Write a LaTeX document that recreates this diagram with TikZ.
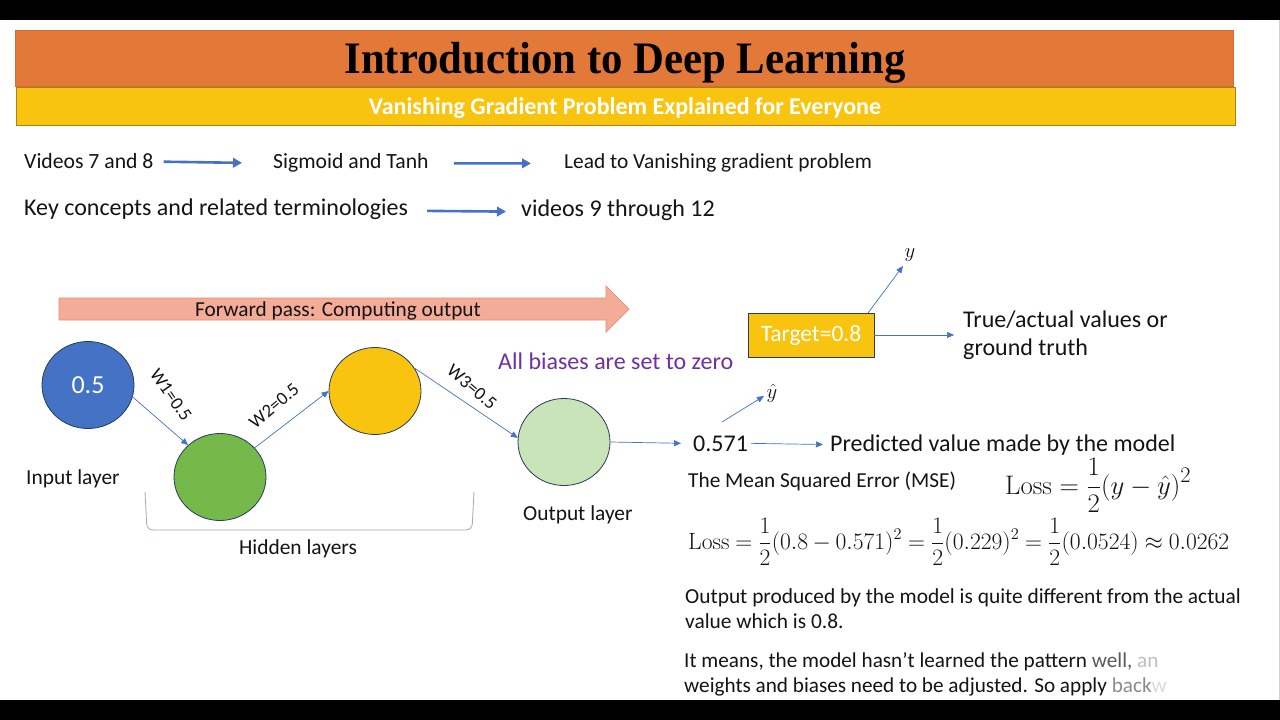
\documentclass[tikz,border=0pt]{standalone}
\usepackage[no-math]{fontspec}
\setmainfont{Carlito}
\newfontfamily\titlefont{Liberation Serif}
\usetikzlibrary{arrows.meta,shapes.geometric}
\definecolor{orangec}{RGB}{226,121,57}
\definecolor{orangeb}{RGB}{205,112,60}
\definecolor{goldc}{RGB}{248,196,16}
\definecolor{goldb}{RGB}{170,130,20}
\definecolor{bluec}{RGB}{68,114,196}
\definecolor{greenc}{RGB}{116,185,74}
\definecolor{lgreenc}{RGB}{200,228,184}
\definecolor{navyb}{RGB}{40,60,90}
\definecolor{purplec}{RGB}{112,48,160}
\definecolor{salmonc}{RGB}{244,172,152}
\definecolor{salmonb}{RGB}{228,140,115}
\definecolor{txt}{RGB}{20,20,20}
\definecolor{brk}{RGB}{160,170,185}
\tikzset{
  txtn/.style={inner sep=0pt, text=txt, font=\fontsize{21.7}{26}\selectfont},
  neuron/.style={ellipse, draw=navyb, line width=0.8pt, minimum width=92, minimum height=87, inner sep=0pt},
  bigarrow/.style={draw=bluec, line width=2.6pt, -{Triangle[length=9pt,width=9.5pt]}},
  thinarrow/.style={draw=bluec, line width=0.7pt, -{Triangle[length=7pt,width=6pt]}},
  wlab/.style={inner sep=0pt, text=txt, font=\fontsize{18.5}{22}\selectfont},
  mathn/.style={inner sep=0pt, text=txt, font=\fontsize{20.74}{25}\selectfont},
}
\begin{document}
\begin{tikzpicture}[x=1pt,y=-1pt]
\useasboundingbox (0,0) rectangle (1280,720);
\fill[white] (0,0) rectangle (1280,720);
\fill[black] (0,0) rectangle (1280,20);
\fill[black] (0,700) rectangle (1280,720);
\draw[gray!35, line width=1pt] (1279,20) -- (1279,700);

% header
\draw[draw=orangeb, fill=orangec, line width=0.8pt] (15,30) rectangle (1233,86);
\draw[draw=goldb, fill=goldc, line width=0.8pt] (16,87) rectangle (1235,125);
\node[anchor=base, inner sep=0pt, text=black, font=\titlefont\bfseries\fontsize{45}{45}\selectfont] (title) at (625,73) {\scalebox{0.95}[1]{Introduction to Deep Learning}};
\node[anchor=base, inner sep=0pt, text=white, font=\bfseries\fontsize{24}{28}\selectfont] (subtitle) at (625,114) {Vanishing Gradient Problem Explained for Everyone};

% line 1 and 2
\node[txtn, anchor=base west] (v78) at (24,168) {Videos 7 and 8};
\node[txtn, anchor=base west] (sig) at (273,168) {Sigmoid and Tanh};
\node[txtn, anchor=base west, font=\fontsize{21.4}{26}\selectfont] (lead) at (564,168) {Lead to Vanishing gradient problem};
\node[txtn, anchor=base west, font=\fontsize{24}{28}\selectfont] (key) at (24,215) {Key concepts and related terminologies};
\node[txtn, anchor=base west, font=\fontsize{24}{28}\selectfont] (v912) at (521,216) {videos 9 through 12};
\draw[bigarrow, shorten <=10pt, shorten >=31pt] ([yshift=-1pt]v78.east) -- ([yshift=-1pt]sig.west);
\draw[bigarrow, shorten <=25pt, shorten >=33pt] ([yshift=-1pt]sig.east) -- ([yshift=-1pt]lead.west);
\draw[bigarrow, shorten <=19pt, shorten >=15pt] ([yshift=-2pt]key.east) -- ([yshift=-2pt]v912.west);

% forward pass arrow
\draw[draw=salmonb, fill=salmonc, line width=0.7pt]
  (59,298) -- (606,298) -- (606,286) -- (629,309) -- (606,332) -- (606,320) -- (59,320) -- cycle;
\node[txtn, anchor=base, font=\fontsize{21.3}{25}\selectfont] (fwd) at (338,316) {Forward pass: Computing output};

% neurons
\node[neuron, fill=bluec, text=white, font=\fontsize{26}{30}\selectfont] (in) at (88,385) {0.5};
\node[neuron, fill=greenc] (h1) at (220,477) {};
\node[neuron, fill=goldc] (h2) at (375,391) {};
\node[neuron, fill=lgreenc] (out) at (564,442) {};

\draw[thinarrow] (in.-15) -- (h1.135);
\draw[thinarrow] (h1.40) -- (h2.180);
\draw[thinarrow] (h2.30) -- (out.175);

\node[wlab, rotate=-55] (w1) at (171,395) {W1=0.5};
\node[wlab, rotate=40] (w2) at (274,406) {W2=0.5};
\node[wlab, rotate=-40] (w3) at (472,387) {W3=0.5};

\node[txtn, anchor=base west, font=\fontsize{21.4}{25}\selectfont] (inl) at (26,484) {Input layer};
\node[txtn, anchor=base west, font=\fontsize{21.4}{25}\selectfont] (outl) at (523,520) {Output layer};
\node[txtn, anchor=base, font=\fontsize{21.4}{25}\selectfont] (hidl) at (298,554) {Hidden layers};
\draw[brk, line width=0.8pt, rounded corners=6pt] (145,492) -- (147,530) -- (472,530) -- (474,492);

\node[txtn, anchor=base west, text=purplec, font=\fontsize{24}{28}\selectfont] (bias) at (498,369) {All biases are set to zero};

% target
\node[draw=navyb, fill=goldc, line width=0.8pt, minimum width=126, minimum height=44, inner sep=0pt, text=white, font=\fontsize{23.5}{27}\selectfont] (tgt) at (811,335) {Target=0.8};
\node[txtn, anchor=north west, align=left, font=\fontsize{24}{28}\selectfont] (true) at (963,311) {True/actual values or\\ground truth};
\draw[thinarrow] (tgt.east) -- ([xshift=-9pt]true.west |- tgt.east);
\coordinate (ys) at (868,313);
\node[inner sep=0pt, text=txt, font=\fontsize{20.74}{26}\selectfont] (ylab) at (910,255) {$y$};
\draw[thinarrow] (ys) -- (903,266);

% prediction
\node[txtn, anchor=base west, font=\fontsize{24}{28}\selectfont] (n571) at (693,451) {0.571};
\node[txtn, anchor=base west, font=\fontsize{24}{28}\selectfont] (pred) at (830,451) {Predicted value made by the model};
\draw[thinarrow] (out.east) -- ([xshift=-12pt]n571.west);
\draw[thinarrow, shorten <=3pt, shorten >=7pt] (n571.east) -- (pred.west);
\coordinate (yhs) at (722,422);
\node[inner sep=0pt, text=txt, font=\fontsize{20.74}{26}\selectfont] (yhat) at (772,393) {$\hat y$};
\draw[thinarrow] (yhs) -- (764,396);

% MSE
\node[txtn, anchor=base west, font=\fontsize{21.3}{25}\selectfont] (mse) at (688,487) {The Mean Squared Error (MSE)};
\node[mathn, anchor=base west, font=\fontsize{24.88}{30}\selectfont] (f1) at (1005,494) {\scalebox{1.076}{$\displaystyle \mathrm{Loss}=\frac{1}{2}(y-\hat y)^2$}};
\node[mathn, anchor=base west] (f2) at (688,549) {\scalebox{1.136}{$\thickmuskip=4.5mu\medmuskip=3.5mu\displaystyle \mathrm{Loss}=\frac{1}{2}(0.8-0.571)^2=\frac{1}{2}(0.229)^2=\frac{1}{2}(0.0524)\approx 0.0262$}};

% paragraphs
\node[txtn, anchor=base west, align=left, font=\fontsize{21.4}{25}\selectfont] (p1) at (685,628) {Output produced by the model is quite different from the actual\\value which is 0.8.};
\node[txtn, anchor=base west, align=left, font=\fontsize{21.2}{25}\selectfont] (p2) at (684,692) {It means, the model hasn't learned the pattern {\color{black!65}well,} {\color{black!25}an}\\weights and biases need to be adjusted. So apply {\color{black!45}back}{\color{black!15}w}};
\end{tikzpicture}
\end{document}
